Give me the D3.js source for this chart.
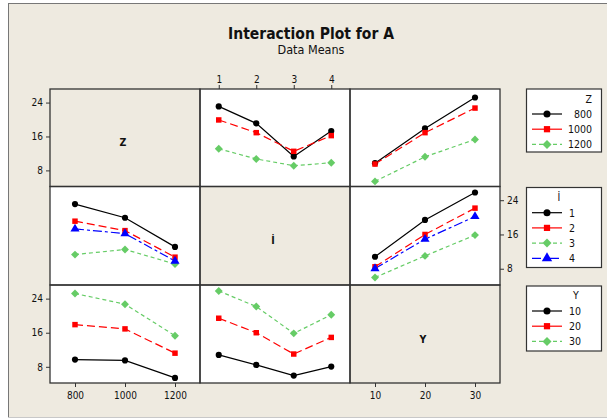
<!DOCTYPE html>
<html><head><meta charset="utf-8">
<script src="https://cdn.jsdelivr.net/npm/d3@7"></script>
<style>
html,body{margin:0;padding:0;background:#fff;}
svg text{font-family:"DejaVu Sans Condensed","DejaVu Sans",sans-serif;fill:#111;}
</style></head>
<body>
<svg id="chart" width="607" height="420"></svg>
<script>
// ---- data ----
const zLevels = [800, 1000, 1200];
const iLevels = [1, 2, 3, 4];
const yLevels = [10, 20, 30];
const yTicks = [8, 16, 24];
// mean of A by Z (rows) and İ (cols)
const meansZI = [
  [23.1, 19.1, 11.3, 17.3],
  [19.9, 16.9, 12.5, 16.2],
  [13.1, 10.7, 9.1, 9.8]
];
// mean of A by Z (rows) and Y (cols)
const meansZY = [
  [9.7, 17.9, 25.2],
  [9.5, 16.9, 22.7],
  [5.4, 11.2, 15.3]
];
// mean of A by İ (rows) and Y (cols)
const meansIY = [
  [10.8, 19.4, 25.8],
  [8.45, 16.0, 22.15],
  [5.95, 11.0, 15.85],
  [8.05, 14.9, 20.2]
];
const varNames = ["Z", "İ", "Y"];
const levels = [zLevels, iLevels, yLevels];

// ---- styles ----
const colors = ["#000000", "#ff0000", "#66cc66", "#0000ff"];
const dashes = [null, "8,4", "4,3", "9,3,3,3"];
const legendDashes = [null, null, "4,3", "9,3,3,3"];
const symbols = [d3.symbolCircle, d3.symbolSquare, d3.symbolDiamond2, d3.symbolTriangle];
const symSizes = [30, 30, 40, 36];
const bg = "#eeeae0";

const svg = d3.select("#chart");
// background frame
svg.append("rect").attr("x", 8).attr("y", 3).attr("width", 620).attr("height", 414).attr("fill", bg);
svg.append("line").attr("x1", 8.5).attr("x2", 8.5).attr("y1", 3).attr("y2", 417).attr("stroke", "#777");
svg.append("line").attr("x1", 8).attr("x2", 607).attr("y1", 3.5).attr("y2", 3.5).attr("stroke", "#777");
svg.append("line").attr("x1", 8).attr("x2", 607).attr("y1", 417.5).attr("y2", 417.5).attr("stroke", "#c8c8c8");

// titles
svg.append("text").attr("x", 311).attr("y", 39).attr("text-anchor", "middle")
  .style("font-size", "15.5px").style("font-weight", "bold").text("Interaction Plot for A");
svg.append("text").attr("x", 311).attr("y", 54).attr("text-anchor", "middle")
  .style("font-size", "12.5px").text("Data Means");

// ---- grid geometry ----
const colEdges = [50, 200, 350, 500];
const rowEdges = [89, 186.5, 285, 383];
const yDomain = [4.2, 27.2];
const xDomains = [[700, 1300], [0.5, 4.5], [5, 35]];

const xScales = xDomains.map((d, c) => d3.scaleLinear().domain(d).range([colEdges[c], colEdges[c + 1]]));
const yScales = [0, 1, 2].map(r => d3.scaleLinear().domain(yDomain).range([rowEdges[r + 1], rowEdges[r]]));

// in panel (r,c): traces are levels of variable r, x axis is variable c
function getMean(rowVar, rowIdx, colVar, colIdx) {
  if (rowVar === 0 && colVar === 1) return meansZI[rowIdx][colIdx];
  if (rowVar === 1 && colVar === 0) return meansZI[colIdx][rowIdx];
  if (rowVar === 0 && colVar === 2) return meansZY[rowIdx][colIdx];
  if (rowVar === 2 && colVar === 0) return meansZY[colIdx][rowIdx];
  if (rowVar === 1 && colVar === 2) return meansIY[rowIdx][colIdx];
  if (rowVar === 2 && colVar === 1) return meansIY[colIdx][rowIdx];
}

for (let r = 0; r < 3; r++) {
  for (let c = 0; c < 3; c++) {
    const x0 = colEdges[c], x1 = colEdges[c + 1], y0 = rowEdges[r], y1 = rowEdges[r + 1];
    const g = svg.append("g");
    g.append("rect").attr("x", x0).attr("y", y0).attr("width", x1 - x0).attr("height", y1 - y0)
      .attr("fill", r === c ? bg : "#fff");
    if (r === c) {
      g.append("text").attr("x", (x0 + x1) / 2 - 2).attr("y", (y0 + y1) / 2 + 8.5)
        .attr("text-anchor", "middle").style("font-size", "10.5px").style("font-weight", "bold")
        .text(varNames[r]);
      continue;
    }
    const xs = xScales[c], ys = yScales[r];
    const traces = levels[r].map((lv, t) => levels[c].map((xv, k) => ({x: xv, y: getMean(r, t, c, k)})));
    const line = d3.line().x(d => xs(d.x)).y(d => ys(d.y));
    traces.forEach((pts, t) => {
      g.append("path").attr("d", line(pts)).attr("fill", "none")
        .attr("stroke", colors[t]).attr("stroke-width", 1.2)
        .attr("stroke-dasharray", dashes[t]);
    });
    traces.forEach((pts, t) => {
      g.selectAll(null).data(pts).enter().append("path")
        .attr("d", d3.symbol().type(symbols[t]).size(symSizes[t]))
        .attr("transform", d => `translate(${xs(d.x)},${ys(d.y)})`)
        .attr("fill", colors[t]);
    });
  }
}
// panel borders
for (let r = 0; r < 3; r++) for (let c = 0; c < 3; c++) {
  svg.append("rect").attr("x", colEdges[c]).attr("y", rowEdges[r])
    .attr("width", colEdges[c + 1] - colEdges[c]).attr("height", rowEdges[r + 1] - rowEdges[r])
    .attr("fill", "none").attr("stroke", "#333").attr("stroke-width", 1.3);
}

// ---- axes ----
function styleAxis(g) {
  g.select(".domain").remove();
  g.selectAll(".tick line").attr("stroke", "#333");
  g.selectAll(".tick text").style("font-size", "10px").style("font-family", '"DejaVu Sans Condensed","DejaVu Sans",sans-serif').attr("fill", "#222");
}
const fmt = d3.format("d");
// y axes: row 0 left, row 1 right, row 2 left
[[0, "left"], [1, "right"], [2, "left"]].forEach(([r, side]) => {
  const ax = side === "left" ? d3.axisLeft(yScales[r]) : d3.axisRight(yScales[r]);
  ax.tickValues(yTicks).tickFormat(fmt).tickSize(4).tickPadding(3);
  svg.append("g").attr("transform", `translate(${side === "left" ? colEdges[0] : colEdges[3]},0)`)
    .call(ax).call(styleAxis);
});
// x axes: col 0 bottom, col 1 top, col 2 bottom
svg.append("g").attr("transform", `translate(0,${rowEdges[3]})`)
  .call(d3.axisBottom(xScales[0]).tickValues(zLevels).tickFormat(fmt).tickSize(4).tickPadding(5)).call(styleAxis);
svg.append("g").attr("transform", `translate(0,${rowEdges[0]})`)
  .call(d3.axisTop(xScales[1]).tickValues(iLevels).tickFormat(fmt).tickSize(4).tickPadding(2)).call(styleAxis);
svg.append("g").attr("transform", `translate(0,${rowEdges[3]})`)
  .call(d3.axisBottom(xScales[2]).tickValues(yLevels).tickFormat(fmt).tickSize(4).tickPadding(5)).call(styleAxis);

// ---- legends ----
const legends = [
  {title: "Z", labels: zLevels, top: 89, h: 63, titleX: 592, titleAnchor: "end", titleY: 102.5, rowY0: 114, labelX: 592, anchor: "end"},
  {title: "İ", labels: iLevels, top: 187.5, h: 80, titleX: 559, titleAnchor: "middle", titleY: 201, rowY0: 212.7, labelX: 569, anchor: "start"},
  {title: "Y", labels: yLevels, top: 286, h: 65, titleX: 576, titleAnchor: "middle", titleY: 299, rowY0: 311, labelX: 569, anchor: "start"}
];
legends.forEach(L => {
  const g = svg.append("g");
  g.append("rect").attr("x", 526.5).attr("y", L.top).attr("width", 75).attr("height", L.h)
    .attr("fill", "#fff").attr("stroke", "#333").attr("stroke-width", 1.2);
  g.append("text").attr("x", L.titleX).attr("y", L.titleY).attr("text-anchor", L.titleAnchor)
    .style("font-size", "10.5px").text(L.title);
  L.labels.forEach((lab, t) => {
    const y = L.rowY0 + t * 15.2;
    g.append("line").attr("x1", 532).attr("x2", 562).attr("y1", y).attr("y2", y)
      .attr("stroke", colors[t]).attr("stroke-width", 1.2).attr("stroke-dasharray", legendDashes[t]);
    g.append("path").attr("d", d3.symbol().type(symbols[t]).size(symSizes[t] * 1.3)())
      .attr("transform", `translate(547,${y})`).attr("fill", colors[t]);
    g.append("text").attr("x", L.labelX).attr("y", y + 4).attr("text-anchor", L.anchor)
      .style("font-size", "10.5px").text(lab);
  });
});
</script>
</body></html>
